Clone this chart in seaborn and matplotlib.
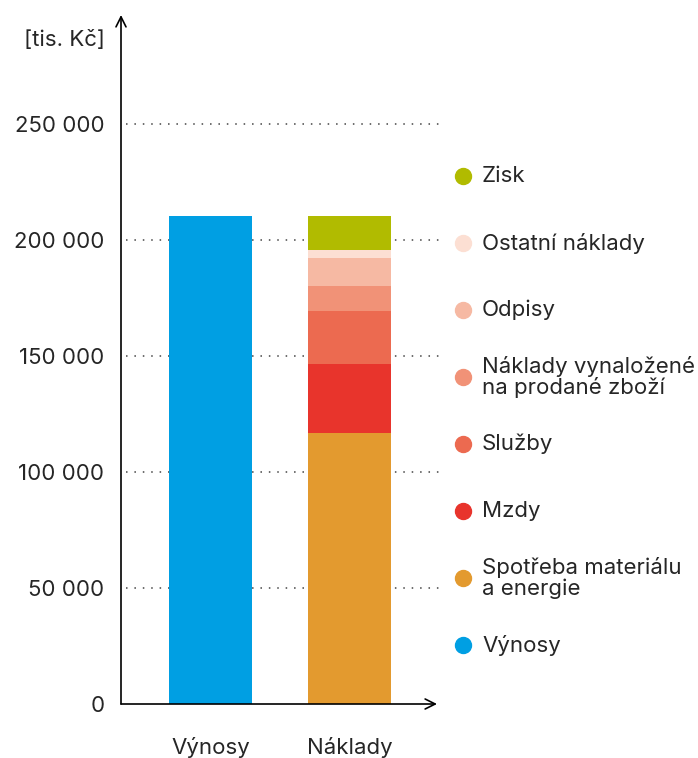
import numpy as np
import pandas as pd
import matplotlib.pyplot as plt
import seaborn as sns
from matplotlib.ticker import FuncFormatter

sns.set_style('white')
plt.rcParams['font.family'] = ['Inter', 'DejaVu Sans']

# Data (tis. Kč)
categories = ['Výnosy', 'Náklady']
vynosy = 210500
segments = ['Spotřeba materiálu\na energie', 'Mzdy', 'Služby',
            'Náklady vynaložené\nna prodané zboží', 'Odpisy',
            'Ostatní náklady', 'Zisk']
segment_values = [116900, 29800, 22500, 11100, 12100, 3400, 14700]
segment_colors = ['#E39A2F', '#E8342C', '#EC6A50', '#F19277', '#F6B9A3',
                  '#FCDFD3', '#B1BB00']
vynosy_color = '#009FE3'
yticks = [0, 50000, 100000, 150000, 200000, 250000]

fs = 16

fig = plt.figure(figsize=(6.98, 7.58), dpi=100)
ax = fig.add_axes([121 / 698, 54 / 758, 316 / 698, 689 / 758])

bar_w = 0.6
# Výnosy bar
sns.barplot(x=['Výnosy'], y=[vynosy], order=categories, color=vynosy_color,
            width=bar_w, ax=ax, saturation=1, linewidth=0, zorder=2)
# stacked costs: draw cumulative totals from the top down
cum = np.cumsum(segment_values)
for total, col in zip(cum[::-1], segment_colors[::-1]):
    sns.barplot(x=['Náklady'], y=[total], order=categories, color=col,
                width=bar_w, ax=ax, saturation=1, linewidth=0, zorder=2)

ax.set_xlim(-0.644, 1.63)
ax.set_ylim(0, 297000)

# dotted gridlines
for t in yticks[1:]:
    ax.plot([-0.61, 1.66], [t, t], color='#444444', lw=1.1,
            linestyle=(0, (1, 4.5)), clip_on=False, zorder=0)

for s in ax.spines.values():
    s.set_visible(False)
ax.annotate('', xy=(0, 1), xytext=(0, 0), xycoords='axes fraction',
            arrowprops=dict(arrowstyle='->', color='black', lw=1.2,
                            mutation_scale=18, shrinkA=0, shrinkB=0))
ax.annotate('', xy=(1, 0), xytext=(0, 0), xycoords='axes fraction',
            arrowprops=dict(arrowstyle='->', color='black', lw=1.2,
                            mutation_scale=18, shrinkA=0, shrinkB=0))

ax.set_yticks(yticks)
ax.yaxis.set_major_formatter(FuncFormatter(lambda v, p: f'{int(v):,}'.replace(',', ' ')))
ax.tick_params(axis='y', length=0, pad=12, labelsize=fs)
ax.tick_params(axis='x', length=0, pad=24, labelsize=fs)
ax.set_xlabel('')
ax.set_ylabel('')

fig.text(105 / 698, 1 - 40 / 758, '[tis. Kč]', ha='right', va='center', fontsize=fs)

# legend
leg_labels = segments[::-1] + ['Výnosy']
leg_colors = segment_colors[::-1] + [vynosy_color]
for i, (lab, col) in enumerate(zip(leg_labels, leg_colors)):
    yc = 1 - (176 + i * 67) / 758
    fig.add_artist(plt.Line2D([463 / 698], [yc], marker='o', markersize=11.5,
                              color=col, linestyle='none',
                              transform=fig.transFigure))
    fig.text(482 / 698, yc, lab, ha='left', va='center', fontsize=fs,
             linespacing=1.05)

fig.savefig('out.png', dpi=100)
